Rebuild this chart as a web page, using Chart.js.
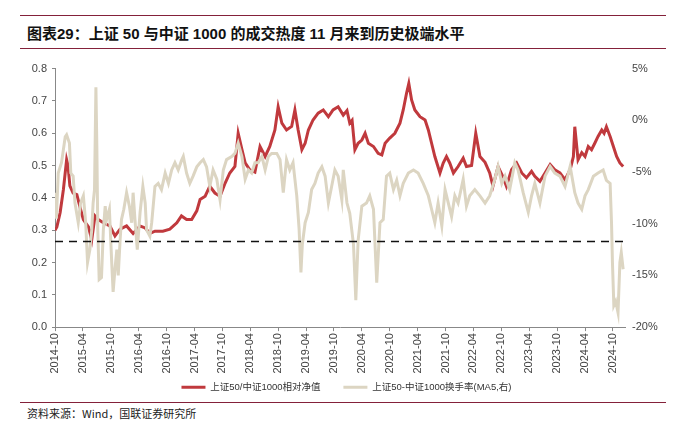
<!DOCTYPE html>
<html><head><meta charset="utf-8">
<script src="https://cdn.jsdelivr.net/npm/chart.js@4/dist/chart.umd.min.js"></script>
<style>
html,body{margin:0;padding:0;background:#fff;width:681px;height:435px;overflow:hidden;}
.rule{position:absolute;left:20px;width:646px;height:0;border-top:1.5px solid #84213A;}
#title{position:absolute;left:27px;top:22px;font:bold 15px "Liberation Sans","Noto Sans CJK SC",sans-serif;color:#111;white-space:nowrap;}
#src{position:absolute;left:27px;top:405px;font:11px "Noto Sans CJK SC",sans-serif;color:#222;white-space:nowrap;}
#wrap{position:absolute;left:0;top:55px;width:681px;height:347px;}
</style></head><body>
<div class="rule" style="top:15px"></div>
<div id="title">图表29：上证 50 与中证 1000 的成交热度 11 月来到历史极端水平</div>
<div class="rule" style="top:48px"></div>
<div id="wrap"><canvas id="c" width="681" height="347"></canvas></div>
<div class="rule" style="top:402px"></div>
<div id="src">资料来源：Wind，国联证券研究所</div>
<script>
// x positions are months since 2014-10
const tickLabels = ["2014-10","2015-04","2015-10","2016-04","2016-10","2017-04","2017-10","2018-04","2018-10","2019-04","2019-10","2020-04","2020-10","2021-04","2021-10","2022-04","2022-10","2023-04","2023-10","2024-04","2024-10"];
const seriesNames = ["上证50/中证1000相对净值","上证50-中证1000换手率(MA5,右)"];

const ratioMonths = [0,0.4,1.1,1.8,2.5,2.8,3.2,3.9,4.7,5.4,6.1,6.7,7.2,7.9,8.6,9.3,10.4,11.8,12.9,14.0,15.4,16.8,18.3,19.4,20.4,21.5,23.2,24.7,26.2,27.2,28.3,29.4,30.5,31.2,32.3,33.3,34.4,35.5,36.6,37.6,38.7,39.4,40.2,40.9,41.9,43.0,44.1,45.2,46.2,47.3,48.0,48.8,49.8,50.9,51.6,52.3,53.1,53.8,54.5,55.5,56.6,57.7,58.8,59.8,60.9,62.0,62.8,63.4,63.9,64.5,65.2,66.0,66.7,67.4,68.5,69.5,70.3,71.0,72.0,73.1,74.2,74.9,75.6,76.1,76.7,77.4,78.5,79.6,80.3,81.0,81.7,82.8,83.5,84.2,84.9,85.7,86.7,87.8,88.5,89.6,90.5,91.4,92.5,93.5,94.2,95.3,96.3,97.1,98.2,99.3,100.4,101.4,102.5,103.2,104.3,105.4,106.5,107.5,108.6,109.7,110.8,111.5,111.8,112.5,113.3,114.0,114.7,115.4,116.1,116.8,117.6,118.1,118.6,119.4,120.1,120.8,121.5,122.2];
const ratioValues = [0.30,0.31,0.354,0.425,0.518,0.50,0.437,0.415,0.41,0.37,0.333,0.32,0.31,0.27,0.344,0.333,0.323,0.313,0.282,0.303,0.313,0.29,0.313,0.307,0.29,0.297,0.297,0.303,0.323,0.344,0.333,0.333,0.36,0.395,0.405,0.436,0.415,0.405,0.446,0.477,0.497,0.60,0.55,0.508,0.487,0.48,0.559,0.528,0.559,0.61,0.682,0.631,0.61,0.621,0.672,0.61,0.549,0.569,0.61,0.641,0.662,0.672,0.651,0.672,0.682,0.656,0.67,0.631,0.64,0.549,0.569,0.579,0.60,0.569,0.559,0.538,0.533,0.569,0.585,0.60,0.631,0.672,0.723,0.754,0.703,0.672,0.651,0.641,0.61,0.569,0.528,0.477,0.508,0.528,0.508,0.477,0.497,0.523,0.497,0.50,0.60,0.528,0.51,0.477,0.436,0.497,0.467,0.436,0.487,0.508,0.477,0.462,0.482,0.467,0.451,0.477,0.503,0.487,0.477,0.456,0.487,0.528,0.62,0.518,0.54,0.528,0.559,0.549,0.569,0.59,0.61,0.60,0.62,0.59,0.559,0.528,0.508,0.497];

const turnoverMonths = [0.0,0.3,0.7,1.4,2.2,2.5,3.1,3.4,3.9,4.3,5.0,5.5,6.1,6.6,7.0,7.5,7.9,8.2,8.5,8.8,9.0,9.2,9.5,10.0,10.4,10.8,11.1,11.7,12.2,12.5,12.9,13.3,13.6,14.0,14.3,14.8,15.4,16.0,16.5,16.8,17.2,17.7,18.3,18.9,19.4,19.7,20.4,20.8,21.5,22.2,22.9,23.7,24.4,25.1,25.8,26.5,27.2,27.6,28.3,29.0,29.7,30.5,31.2,31.9,32.6,33.3,34.0,34.8,35.5,36.2,36.9,38.0,38.7,39.4,40.2,40.9,41.6,42.3,43.0,43.7,44.5,45.2,45.9,46.6,47.7,48.4,49.1,49.8,50.5,51.2,52.0,52.5,52.9,53.2,53.8,54.5,55.2,55.9,56.6,57.4,58.1,58.8,59.5,60.2,60.9,61.7,62.0,62.8,63.4,64.2,64.7,65.2,66.0,67.0,67.7,68.5,69.2,69.9,70.6,71.3,72.0,72.8,73.5,74.2,74.9,76.0,77.1,78.1,79.2,80.3,81.0,81.7,82.4,83.2,83.9,84.6,85.3,86.0,86.7,87.8,88.5,89.2,90.3,91.4,92.5,93.5,94.6,95.3,96.1,96.8,97.8,98.9,99.6,100.7,101.8,102.5,103.2,104.3,105.4,106.5,107.5,108.6,109.7,110.8,111.8,112.5,113.3,114.0,114.7,115.8,116.8,117.9,118.6,119.4,119.7,119.9,120.2,120.6,121.1,121.5,121.8,122.2];
const turnoverValues = [-7.0,-9.5,-5.1,-4.1,-1.6,-1.4,-2.2,-5.1,-5.4,-8.0,-9.9,-8.0,-7.3,-9.9,-13.75,-12.5,-10.6,-8.0,-6.7,3.2,-2.5,-10.5,-15.4,-15.2,-10.6,-8.3,-9.6,-8.6,-13.75,-16.6,-14.4,-12.5,-15.0,-11.6,-9.6,-8.6,-7.0,-8.3,-9.9,-7.0,-9.6,-12.5,-8.9,-6.4,-8.0,-10.6,-11.2,-9.9,-6.4,-6.1,-6.7,-5.1,-6.1,-4.8,-4.1,-4.8,-3.9,-3.5,-5.1,-6.1,-5.4,-4.5,-4.1,-3.8,-4.5,-6.4,-4.8,-5.7,-7.7,-4.8,-3.8,-3.5,-3.2,-2.2,-3.5,-5.7,-4.8,-5.1,-4.1,-4.1,-3.5,-4.8,-3.5,-3.2,-3.2,-3.8,-7.0,-3.8,-4.8,-4.1,-7.3,-10.5,-14.7,-12.0,-9.9,-8.9,-6.7,-6.1,-5.1,-4.5,-5.4,-8.0,-6.4,-4.8,-5.4,-7.7,-4.8,-8.0,-9.0,-12.0,-17.4,-11.6,-8.3,-8.0,-7.3,-8.6,-15.7,-9.9,-9.6,-5.4,-5.1,-6.7,-5.8,-7.3,-6.1,-5.1,-4.8,-5.1,-6.1,-7.3,-8.6,-9.9,-8.0,-10.2,-6.7,-8.0,-9.3,-7.3,-8.0,-5.7,-8.3,-7.3,-6.7,-7.3,-8.0,-7.3,-5.7,-4.45,-6.1,-5.4,-6.7,-4.1,-4.8,-7.0,-8.9,-7.3,-6.1,-8.0,-5.4,-4.45,-5.1,-5.4,-6.4,-4.45,-7.0,-8.0,-8.6,-7.3,-6.7,-5.4,-5.1,-4.8,-5.8,-6.1,-9.9,-13.75,-17.9,-17.5,-18.6,-13.75,-12.8,-14.4];

const thresholdValue = 0.265;
const xMax = 122.6;

const toPts = (xs, ys) => xs.map((x, i) => ({x: x, y: ys[i]}));
const tickFont = {family: '"Liberation Sans","Noto Sans CJK SC",sans-serif', size: 11};
const legendGap = '\u00a0\u00a0\u00a0\u00a0\u00a0\u00a0';

new Chart(document.getElementById('c'), {
  type: 'line',
  data: {
    datasets: [
      {label: seriesNames[0], data: toPts(ratioMonths, ratioValues), yAxisID: 'y', borderColor: '#C0393D', backgroundColor: '#C0393D', borderWidth: 3, pointRadius: 0, tension: 0, order: 2},
      {label: seriesNames[1], data: toPts(turnoverMonths, turnoverValues), yAxisID: 'y2', borderColor: '#DCD5C2', backgroundColor: '#DCD5C2', borderWidth: 3, pointRadius: 0, tension: 0, order: 1},
      {label: 'threshold', data: [{x: 0, y: thresholdValue}, {x: xMax, y: thresholdValue}], yAxisID: 'y', borderColor: '#111', borderWidth: 1.5, borderDash: [8, 6], pointRadius: 0, order: 0}
    ]
  },
  options: {
    responsive: false,
    animation: false,
    layout: {padding: {top: 2, left: 12, right: 0, bottom: 0}},
    plugins: {
      tooltip: {enabled: false},
      legend: {
        position: 'bottom',
        labels: {
          font: {family: '"Liberation Sans","Noto Sans CJK SC",sans-serif', size: 9.5},
          color: '#333',
          boxWidth: 24, boxHeight: 3, padding: 7,
          filter: item => item.datasetIndex < 2,
          sort: (a, b) => a.datasetIndex - b.datasetIndex,
          generateLabels: chart => Chart.defaults.plugins.legend.labels.generateLabels(chart).map(l => Object.assign(l, {lineWidth: 0, fillStyle: l.strokeStyle, lineDash: [], text: l.datasetIndex === 0 ? l.text + legendGap : l.text}))
        }
      }
    },
    scales: {
      x: {
        type: 'linear', min: 0, max: xMax,
        afterBuildTicks: axis => { axis.ticks = tickLabels.map((_, i) => ({value: i * 6})); },
        ticks: {autoSkip: false, maxRotation: 90, minRotation: 90, font: tickFont, color: '#444', padding: 2,
          callback: (v) => tickLabels[Math.round(v / 6)]},
        grid: {drawOnChartArea: false, drawTicks: true, tickLength: 4, color: '#888'},
        border: {display: true, color: '#888'}
      },
      y: {
        position: 'left', min: 0, max: 0.8,
        afterFit: s => { s.width = 43; },
        ticks: {stepSize: 0.1, font: tickFont, color: '#444', padding: 5, callback: v => v.toFixed(1)},
        grid: {drawOnChartArea: false, tickLength: 3, color: '#888'},
        border: {display: true, color: '#888'}
      },
      y2: {
        position: 'right', min: -20, max: 5,
        afterFit: s => { s.width = 56; },
        ticks: {stepSize: 5, font: tickFont, color: '#444', padding: 7, callback: v => v + '%'},
        grid: {drawOnChartArea: false, drawTicks: false},
        border: {display: false}
      }
    }
  }
});
</script>
</body></html>
